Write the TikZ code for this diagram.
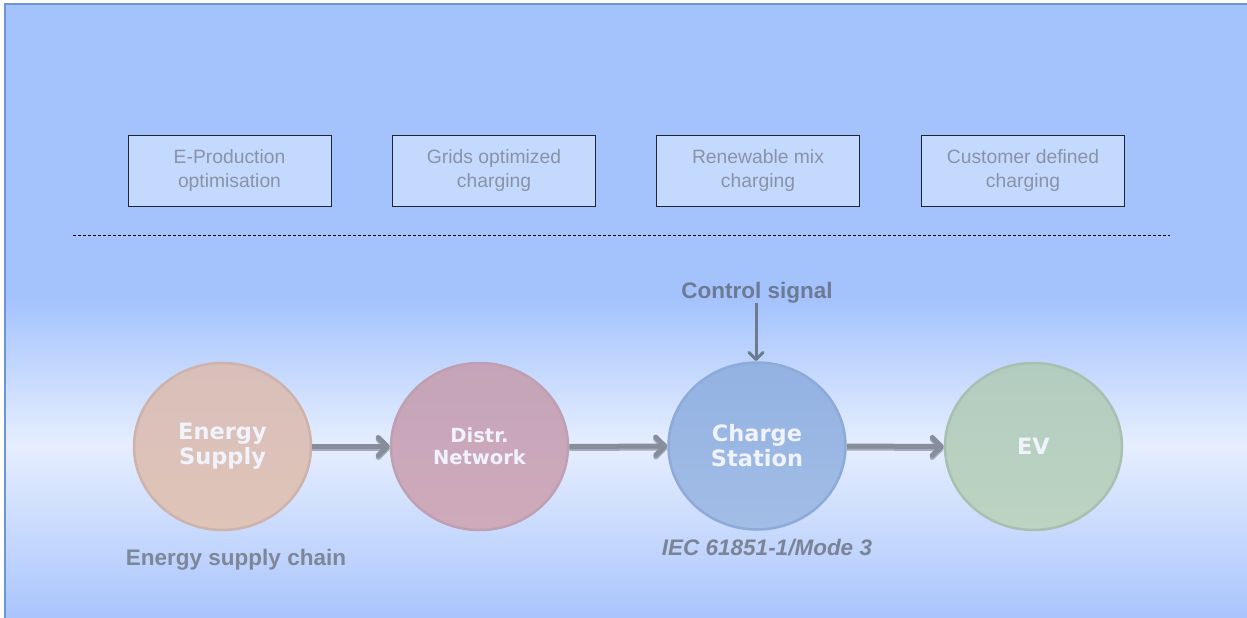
\documentclass[tikz,border=0pt]{standalone}
\usepackage{fontspec}
\setmainfont{Liberation Sans}
\newfontfamily\verd{DejaVu Sans}
\usetikzlibrary{shapes.geometric,arrows.meta}
\definecolor{bgtop}{HTML}{A4C3FD}
\definecolor{bgmid}{HTML}{E6EEFE}
\definecolor{bgbot}{HTML}{A8C4FC}
\definecolor{bgedge}{HTML}{6A95D6}
\definecolor{boxfill}{HTML}{C4D9FE}
\definecolor{boxtext}{HTML}{8A93A6}
\definecolor{boxline}{HTML}{1E2430}
\definecolor{circtext}{HTML}{F0F3FC}
\definecolor{arrowc}{HTML}{868E9B}
\definecolor{arrowsh}{HTML}{A3ABBB}
\definecolor{ctrlc}{HTML}{6E7A90}
\definecolor{ctltext}{HTML}{6D7A94}
\definecolor{chaintext}{HTML}{7E8797}
\definecolor{iectext}{HTML}{7A8496}
\definecolor{esT}{HTML}{D8BFB9}\definecolor{esM}{HTML}{EBCDB5}\definecolor{esB}{HTML}{DFC4B8}\definecolor{esL}{HTML}{CDB3AC}
\definecolor{dnT}{HTML}{C5A4B9}\definecolor{dnM}{HTML}{D4AFBB}\definecolor{dnB}{HTML}{CFAABA}\definecolor{dnL}{HTML}{BF9FB2}
\definecolor{csT}{HTML}{93B2E2}\definecolor{csM}{HTML}{A9C2EA}\definecolor{csB}{HTML}{A2BDE6}\definecolor{csL}{HTML}{8EAAD8}
\definecolor{evT}{HTML}{B2CCC0}\definecolor{evM}{HTML}{C5DBC0}\definecolor{evB}{HTML}{BCD4C0}\definecolor{evL}{HTML}{A9C0B1}
\tikzset{
  pbox/.style={draw=boxline, line width=1pt, fill=boxfill, minimum width=203pt, minimum height=71pt,
    inner sep=0pt, align=center, text=boxtext, font=\fontsize{19.3}{24}\selectfont},
  circ/.style={ellipse, minimum width=177pt, minimum height=167pt, inner sep=0pt, line width=2.5pt,
    align=center, text=circtext, font=\verd\bfseries\fontsize{22.5}{25}\selectfont},
  lbl/.style={inner sep=0pt, font=\bfseries\fontsize{22.5}{26}\selectfont},
  flow/.style={draw=arrowc, line width=5pt, -{Straight Barb[length=9pt,width=18pt,round]}},
  flowsh/.style={draw=arrowsh, line width=5pt, -{Straight Barb[length=9pt,width=18pt,round]}},
  ctrl/.style={draw=ctrlc, line width=3pt, -{Straight Barb[length=7pt,width=14pt,round]}}
}
\begin{document}
\begin{tikzpicture}[x=1pt,y=-1pt]
\useasboundingbox (0,0) rectangle (1247,618);
% background
\fill[bgtop] (5,4) rectangle (1250,300);
\shade[top color=bgtop,bottom color=bgmid] (5,299.5) rectangle (1250,445);
\shade[top color=bgmid,bottom color=bgbot] (5,444.5) rectangle (1250,622);
\draw[bgedge,line width=1.5pt] (1250,4) -- (5,4) -- (5,622);
% boxes
\node[pbox] (b1) at (229.5,170.5) {E-Production\\optimisation};
\node[pbox] (b2) at (494,170.5) {Grids optimized\\charging};
\node[pbox] (b3) at (758,170.5) {Renewable mix\\charging};
\node[pbox] (b4) at (1023,170.5) {Customer defined\\charging};
% dashed separator
\coordinate (dl) at (73,235);
\coordinate (dr) at (1170,235);
\draw[black, line width=0.8pt, dash pattern=on 3pt off 2pt] (dl) -- (dr);
% circles
\node[circ, draw=esL, top color=esT, middle color=esM, bottom color=esB] (es) at (222.5,446.5) {Energy\\Supply};
\node[circ, draw=dnL, top color=dnT, middle color=dnM, bottom color=dnB,
      font=\verd\bfseries\fontsize{19.5}{22}\selectfont] (dn) at (479.5,446.5) {Distr.\\Network};
\node[circ, draw=csL, top color=csT, middle color=csM, bottom color=csB] (cs) at (757,446) {Charge\\Station};
\node[circ, draw=evL, top color=evT, middle color=evM, bottom color=evB] (ev) at (1033.5,446.5) {EV};
% flow arrows
\foreach \a/\b in {es/dn,dn/cs,cs/ev}{
  \draw[flowsh, transform canvas={yshift=-2pt}] (\a.east) -- (\b.west);
  \draw[flow] (\a.east) -- (\b.west);
}
% labels
\node[lbl, text=ctltext] (ctl) at (757,293) {Control signal};
\coordinate (cstop) at (756,361);
\draw[ctrl] (756,303) -- (cstop);
\node[lbl, text=chaintext] (chain) at (236,560) {Energy supply chain};
\node[lbl, text=iectext, font=\bfseries\itshape\fontsize{22.5}{26}\selectfont] (iec) at (767,548) {IEC 61851-1/Mode 3};
\end{tikzpicture}
\end{document}
